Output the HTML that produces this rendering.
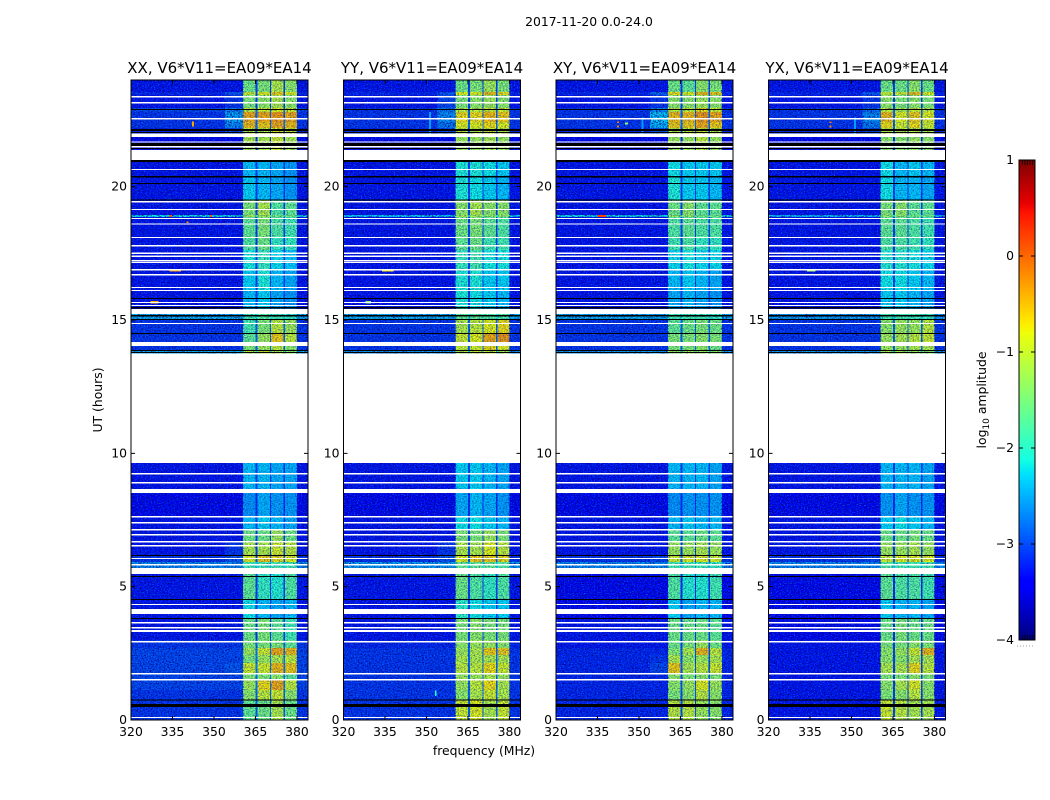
<!DOCTYPE html>
<html lang="en">
<head>
<meta charset="utf-8">
<title>2017-11-20 0.0-24.0</title>
<style>
html,body{margin:0;padding:0;background:#fff;width:1050px;height:800px;overflow:hidden}
svg{display:block}
text{font-family:"DejaVu Sans","Liberation Sans",sans-serif;fill:#000}
</style>
</head>
<body>
<svg id="figure" xmlns="http://www.w3.org/2000/svg" width="1050" height="800" viewBox="0 0 1050 800">
  <defs>
    <filter id="grain-dark" x="0" y="0" width="100%" height="100%" color-interpolation-filters="sRGB">
      <feTurbulence type="fractalNoise" baseFrequency="0.62 0.85" numOctaves="2" seed="4"/>
      <feColorMatrix type="matrix" values="0 0 0 0 0  0 0 0 0 0  0 0 0 0 0.45  2.6 0 0 0 -1.05"/>
    </filter>
    <filter id="grain-light" x="0" y="0" width="100%" height="100%" color-interpolation-filters="sRGB">
      <feTurbulence type="fractalNoise" baseFrequency="0.7 0.9" numOctaves="2" seed="11"/>
      <feColorMatrix type="matrix" values="0 0 0 0 0  0 0 0 0 0.5  0 0 0 0 1  0 2.4 0 0 -1.22"/>
    </filter>
  </defs>
  <text x="589" y="26" text-anchor="middle" font-size="12.4">2017-11-20 0.0-24.0</text>
  <text x="484" y="755" text-anchor="middle" font-size="12.4">frequency (MHz)</text>
  <text transform="translate(102,400) rotate(-90)" text-anchor="middle" font-size="12.4">UT (hours)</text>
  <text transform="translate(986,400) rotate(-90)" text-anchor="middle" font-size="12.4">log<tspan font-size="9" dy="3">10</tspan><tspan dy="-3"> amplitude</tspan></text>
  <g id="panels"></g>
  <g id="colorbar"></g>
</svg>
<script>
// ---- data ----
const panelNames = ["XX", "YY", "XY", "YX"];
const baselineLabel = "V6*V11=EA09*EA14";
const freqTicks = [320, 335, 350, 365, 380];
const hourTicks = [0, 5, 10, 15, 20];
const colorbarTicks = [-4, -3, -2, -1, 0, 1];

// time-block top edges (hours, descending); last value closes the final block
const rowEdges = [24, 23.55, 23.44, 22.95, 22.8, 22.425, 22.2, 21.86, 21.375, 20.4, 19.5, 18.94, 18.86, 18.11, 17.625, 16.875, 16.125, 15.225, 15.0, 14.51, 14.175, 13.875, 13.725, 8.625, 7.65, 7.125, 6.71, 6.19, 5.925, 5.475, 4.5, 3.825, 3.0, 2.7, 2.44, 2.14, 1.76, 1.5, 1.125, 0.75, 0];

// frequency column edges (MHz) and the value slot each column reads
const columnEdges = [320, 354, 360.5, 365, 365.7, 370.2, 370.7, 375.1, 375.7, 380, 384];
const columnSlots = ["bg", "sh", 2, "gap", 3, "gap", 4, "gap", 5, "bg"];

// log10 amplitude per block: [background, shoulder, band1, band2, band3, band4]
const ampXX = [
[-3.3,-3.3,-1.5,-1.4,-1.1,-1.3],[-3.2,-2.9,-0.9,-0.8,-0.6,-0.8],[-3.3,-3.1,-1.4,-1.3,-1.1,-1.3],[-3.0,-2.7,-1.0,-0.9,-0.8,-0.9],
[-3.1,-2.5,-0.4,-0.4,-0.3,-0.4],[-3.1,-2.6,-0.5,-0.6,-0.4,-0.5],[-3.2,-3.0,-1.0,-1.0,-0.8,-0.9],[-3.4,-3.4,-1.1,-1.1,-0.9,-1.1],
[-3.3,-3.3,-2.35,-2.35,-2.45,-2.55],[-3.3,-3.3,-2.25,-2.35,-2.45,-2.55],[-3.3,-3.3,-1.4,-1.1,-1.7,-1.6],[-2.2,-2.2,-1.2,-1.2,-1.5,-1.5],
[-3.3,-3.3,-1.6,-1.4,-1.7,-1.8],[-3.3,-3.3,-1.7,-1.5,-1.9,-1.9],[-3.3,-3.3,-2.1,-1.9,-2.2,-2.3],[-3.3,-3.3,-2.25,-2.05,-2.35,-2.45],
[-3.3,-3.3,-2.35,-2.25,-2.45,-2.55],[-2.4,-2.4,-1.8,-1.7,-1.8,-1.9],[-3.1,-3.1,-1.8,-1.4,-1.0,-1.2],[-3.1,-3.1,-1.6,-1.2,-0.6,-1.0],
[-3.1,-3.1,-1.4,-1.2,-1.0,-1.3],[-2.4,-2.4,-1.0,-0.9,-1.1,-1.3],[-3.3,-3.3,-2.35,-2.35,-2.45,-2.45],[-3.4,-3.4,-2.6,-2.45,-2.55,-2.55],
[-3.3,-3.3,-2.35,-2.25,-2.35,-2.45],[-3.3,-3.3,-1.5,-1.5,-1.2,-1.5],[-3.3,-3.1,-1.1,-1.1,-0.9,-1.0],[-3.1,-2.9,-0.8,-0.6,-0.7,-0.8],
[-2.6,-2.6,-1.8,-1.8,-1.8,-1.8],[-3.3,-3.3,-1.6,-1.9,-2.0,-1.7],[-3.3,-3.3,-2.15,-2.35,-2.45,-2.35],[-3.3,-3.3,-1.5,-1.4,-1.6,-1.8],
[-3.1,-3.1,-1.4,-1.4,-1.4,-1.6],[-3.0,-3.0,-1.2,-0.9,-0.4,-0.5],[-3.0,-3.0,-1.4,-1.2,-1.1,-1.0],[-3.0,-2.9,-0.9,-0.9,-0.5,-0.6],
[-3.0,-3.0,-1.4,-1.4,-1.3,-1.6],[-3.0,-3.0,-1.2,-0.7,-0.4,-1.0],[-3.1,-3.1,-1.3,-1.0,-0.9,-1.3],[-3.1,-3.1,-1.6,-1.5,-1.1,-1.5]];
const ampYY = [
[-3.3,-3.3,-1.5,-1.4,-1.2,-1.4],[-3.2,-2.9,-0.8,-0.8,-0.5,-0.7],[-3.3,-3.0,-1.4,-1.3,-1.2,-1.3],[-3.1,-2.7,-1.0,-1.0,-0.9,-0.9],
[-3.1,-2.6,-0.7,-0.7,-0.5,-0.6],[-3.1,-2.7,-0.8,-0.8,-0.7,-0.8],[-3.2,-3.0,-1.0,-1.0,-0.9,-1.0],[-3.4,-3.4,-1.2,-1.2,-1.1,-1.2],
[-3.3,-3.3,-2.05,-2.05,-2.15,-2.25],[-3.3,-3.3,-2.05,-2.15,-2.25,-2.35],[-3.3,-3.3,-1.3,-1.1,-1.3,-1.3],[-2.3,-2.3,-1.2,-1.2,-1.3,-1.3],
[-3.3,-3.3,-1.5,-1.4,-1.6,-1.7],[-3.3,-3.3,-1.6,-1.5,-1.8,-1.8],[-3.3,-3.3,-1.9,-1.8,-2.1,-2.1],[-3.3,-3.3,-2.05,-2.05,-2.25,-2.25],
[-3.3,-3.3,-2.05,-2.15,-2.25,-2.35],[-2.4,-2.4,-1.6,-1.6,-1.7,-1.7],[-3.1,-3.1,-1.1,-1.0,-0.8,-0.7],[-3.1,-3.1,-0.9,-0.8,-0.4,-0.3],
[-3.1,-3.1,-1.0,-0.9,-0.7,-0.8],[-2.5,-2.5,-1.0,-0.9,-1.0,-1.1],[-3.3,-3.3,-2.25,-2.25,-2.35,-2.45],[-3.4,-3.4,-2.45,-2.35,-2.45,-2.55],
[-3.3,-3.3,-2.15,-2.15,-2.25,-2.35],[-3.3,-3.3,-1.4,-1.4,-1.2,-1.4],[-3.3,-3.1,-1.1,-1.1,-0.8,-1.0],[-3.1,-2.9,-0.8,-0.6,-0.6,-0.7],
[-2.5,-2.5,-1.6,-1.6,-1.6,-1.7],[-3.3,-3.3,-1.5,-1.7,-1.9,-1.7],[-3.3,-3.3,-1.95,-2.15,-2.25,-2.25],[-3.3,-3.3,-1.4,-1.3,-1.4,-1.4],
[-3.2,-3.2,-1.3,-1.2,-1.2,-1.3],[-3.1,-3.1,-1.2,-1.1,-0.6,-0.6],[-3.1,-3.1,-1.1,-1.1,-1.1,-1.1],[-3.1,-3.1,-1.0,-1.0,-0.7,-0.9],
[-3.1,-3.1,-1.2,-1.2,-1.1,-1.2],[-3.1,-3.1,-1.2,-1.0,-0.7,-1.1],[-3.1,-3.1,-1.3,-1.1,-0.9,-1.1],[-3.1,-3.1,-0.9,-0.8,-1.1,-0.9]];
const ampXY = [
[-3.3,-3.3,-1.5,-1.6,-1.3,-1.4],[-3.2,-2.8,-0.7,-0.8,-0.5,-0.6],[-3.3,-3.1,-1.3,-1.3,-1.2,-1.3],[-3.1,-2.6,-1.0,-1.0,-0.7,-0.9],
[-3.1,-2.3,-0.5,-0.5,-0.3,-0.4],[-3.1,-2.4,-0.6,-0.6,-0.4,-0.6],[-3.2,-2.9,-1.0,-1.0,-0.9,-1.0],[-3.4,-3.4,-1.2,-1.2,-1.0,-1.2],
[-3.3,-3.3,-2.15,-2.25,-2.25,-2.25],[-3.3,-3.3,-2.05,-2.25,-2.25,-2.35],[-3.3,-3.3,-1.5,-1.3,-1.6,-1.6],[-2.2,-2.2,-1.3,-1.3,-1.5,-1.5],
[-3.3,-3.3,-1.7,-1.6,-1.7,-1.7],[-3.3,-3.3,-1.8,-1.7,-1.9,-1.9],[-3.3,-3.3,-2.2,-2.1,-2.2,-2.2],[-3.3,-3.3,-2.35,-2.25,-2.35,-2.45],
[-3.3,-3.3,-2.45,-2.35,-2.45,-2.55],[-2.4,-2.4,-1.8,-1.8,-1.8,-1.9],[-3.1,-3.1,-1.6,-1.5,-1.4,-1.5],[-3.1,-3.1,-1.4,-1.4,-1.3,-1.4],
[-3.1,-3.1,-1.4,-1.4,-1.3,-1.5],[-2.5,-2.5,-1.2,-1.1,-1.2,-1.3],[-3.3,-3.3,-2.35,-2.35,-2.35,-2.45],[-3.4,-3.4,-2.6,-2.55,-2.55,-2.55],
[-3.3,-3.3,-2.35,-2.25,-2.35,-2.35],[-3.3,-3.3,-1.6,-1.6,-1.5,-1.6],[-3.3,-3.3,-1.2,-1.2,-1.1,-1.2],[-3.1,-3.0,-0.9,-0.8,-0.8,-0.9],
[-2.6,-2.6,-1.8,-1.8,-1.8,-1.9],[-3.4,-3.4,-1.7,-2.0,-2.0,-1.8],[-3.4,-3.4,-2.25,-2.45,-2.35,-2.35],[-3.3,-3.3,-1.5,-1.5,-1.5,-1.6],
[-3.3,-3.3,-1.5,-1.4,-1.2,-1.5],[-3.2,-3.2,-1.4,-1.1,-0.5,-1.0],[-3.2,-3.1,-1.1,-1.3,-1.2,-1.1],[-3.2,-3.0,-0.6,-1.1,-1.0,-0.9],
[-3.2,-3.2,-1.3,-1.4,-1.3,-1.4],[-3.2,-3.2,-1.3,-1.2,-0.8,-1.2],[-3.2,-3.2,-1.4,-1.3,-1.0,-1.3],[-3.2,-3.2,-1.0,-1.0,-1.2,-1.3]];
const ampYX = [
[-3.3,-3.3,-1.5,-1.5,-1.3,-1.5],[-3.2,-2.9,-0.9,-0.9,-0.5,-0.8],[-3.3,-3.1,-1.3,-1.4,-1.3,-1.4],[-3.1,-2.8,-1.0,-1.1,-0.9,-1.0],
[-3.1,-2.6,-0.5,-0.8,-0.6,-0.8],[-3.1,-2.7,-0.7,-0.9,-0.7,-0.9],[-3.2,-3.0,-1.0,-1.0,-1.0,-1.1],[-3.4,-3.4,-1.3,-1.3,-1.2,-1.3],
[-3.3,-3.3,-2.15,-2.35,-2.25,-2.35],[-3.3,-3.3,-2.15,-2.35,-2.35,-2.45],[-3.3,-3.3,-1.4,-1.3,-1.6,-1.6],[-2.4,-2.4,-1.3,-1.3,-1.5,-1.5],
[-3.3,-3.3,-1.6,-1.6,-1.7,-1.8],[-3.3,-3.3,-1.7,-1.7,-1.8,-1.9],[-3.3,-3.3,-2.0,-2.0,-2.1,-2.2],[-3.3,-3.3,-2.15,-2.15,-2.25,-2.35],
[-3.3,-3.3,-2.25,-2.25,-2.35,-2.45],[-2.5,-2.5,-1.8,-1.8,-1.8,-1.9],[-3.1,-3.1,-1.3,-1.2,-1.2,-1.0],[-3.1,-3.1,-1.2,-1.1,-1.0,-0.9],
[-3.1,-3.1,-1.2,-1.2,-1.1,-1.1],[-2.5,-2.5,-1.1,-1.1,-1.2,-1.3],[-3.3,-3.3,-2.35,-2.35,-2.35,-2.45],[-3.4,-3.4,-2.55,-2.45,-2.55,-2.55],
[-3.3,-3.3,-2.25,-2.15,-2.25,-2.35],[-3.3,-3.3,-1.5,-1.5,-1.4,-1.5],[-3.3,-3.3,-1.2,-1.2,-1.1,-1.2],[-3.1,-3.0,-0.9,-0.8,-0.8,-0.8],
[-2.6,-2.6,-1.7,-1.8,-1.8,-1.8],[-3.4,-3.4,-1.6,-1.7,-1.7,-1.8],[-3.4,-3.4,-2.25,-2.35,-2.35,-2.45],[-3.4,-3.4,-1.5,-1.4,-1.5,-1.5],
[-3.3,-3.3,-1.4,-1.4,-1.3,-1.4],[-3.3,-3.3,-1.3,-1.2,-0.9,-0.5],[-3.3,-3.3,-1.3,-1.3,-1.1,-1.1],[-3.3,-3.3,-1.1,-1.1,-0.7,-1.0],
[-3.3,-3.3,-1.4,-1.4,-1.3,-1.4],[-3.3,-3.3,-1.3,-1.1,-0.8,-1.3],[-3.3,-3.3,-1.4,-1.3,-1.0,-1.3],[-3.3,-3.3,-0.9,-1.0,-1.1,-1.1]];
const panelAmps = [ampXX, ampYY, ampXY, ampYX];

// flagged time ranges [start, end] in hours, shared by all panels
const whiteFlags = [[23.4,23.34],[23.175,23.12],[22.575,22.52],[21.99,21.86],[21.69,21.66],[21.525,21.47],[21.375,21.0],[20.66,20.625],[19.46,19.41],[19.16,19.125],[18.825,18.79],[18.62,18.58],[18.11,18.075],[17.81,17.76],[17.53,17.475],[17.42,17.36],[17.25,17.19],[17.175,17.14],[16.91,16.86],[16.725,16.67],[16.24,16.2],[16.125,16.09],[15.675,15.64],[15.56,15.525],[15.41,15.225],[14.89,14.85],[14.175,14.025],[13.74,9.64],[9.26,9.21],[8.925,8.87],[8.66,8.51],[7.65,7.59],[7.425,7.37],[7.16,7.11],[6.975,6.92],[6.71,6.66],[6.56,6.5],[6.075,6.04],[5.85,5.79],[5.7,5.475],[4.35,4.31],[4.16,3.975],[3.675,3.62],[3.49,3.43],[3.375,3.3],[2.96,2.9],[1.76,1.71],[1.54,1.48],[0.11,0.075]];
const blackFlags = [[22.91,22.87],[22.16,22.09],[22.05,22.01],[21.64,21.52],[21.45,21.41],[21.0,20.92],[20.4,20.34],[20.14,20.1],[19.52,19.48],[15.825,15.79],[15.49,15.43],[15.19,15.13],[15.04,15.0],[14.51,14.475],[13.875,13.84],[13.8,13.76],[6.19,6.15],[5.4,5.36],[4.54,4.5],[3.825,3.79],[0.77,0.73],[0.6,0.49]];

// narrow interference features: panel, f0, f1, hour-high, hour-low, value
const rfiPanel = [0,0,0,0,0,0,1,1,1,2,2,2,2,3,3,3,2,3,1];
const rfiF0 = [334,348.5,340,334,327,342,334,328,351,335,342,342,345,342,342,334,351,351,353];
const rfiF1 = [334.8,349.3,340.8,338,330,342.7,338,330,351.7,338,342.7,342.7,346,342.7,342.7,337,351.7,351.7,353.6];
const rfiTop = [18.94,18.94,18.7,16.92,15.72,22.45,16.92,15.72,22.8,18.94,22.45,22.3,22.4,22.45,22.3,16.92,22.6,22.6,1.1];
const rfiLow = [18.87,18.87,18.63,16.82,15.62,22.25,16.82,15.62,21.9,18.87,22.38,22.22,22.33,22.38,22.22,16.82,21.9,21.9,0.9];
const rfiValue = [0.1,0.1,-0.2,-0.3,-0.4,-0.3,-0.7,-1.4,-2.6,0.2,-0.1,-0.1,-1.4,-0.1,-0.1,-1.2,-2.6,-2.6,-2.0];

// ---- scales ----
const panelLeft = [131, 343.5, 556, 768.5];
const panelWidth = 177, plotTop = 80, plotBottom = 720;
const ampMin = -4, ampMax = 1;
const bandStartMHz = 360.5, bandEndMHz = 380;
function xScale(p, f) { return panelLeft[p] + (f - 320) * panelWidth / 64; }
function yScale(h) { return plotBottom - h * (plotBottom - plotTop) / 24; }

function seg(v, pts) {
  for (let i = 1; i < pts.length; i++) {
    if (v <= pts[i][0]) {
      const a = pts[i - 1], b = pts[i];
      return a[1] + (b[1] - a[1]) * (v - a[0]) / (b[0] - a[0]);
    }
  }
  return pts[pts.length - 1][1];
}
function jet(val) {
  const v = Math.max(0, Math.min(1, (val - ampMin) / (ampMax - ampMin)));
  const r = seg(v, [[0, 0], [0.35, 0], [0.66, 1], [0.89, 1], [1, 0.5]]);
  const g = seg(v, [[0, 0], [0.125, 0], [0.375, 1], [0.64, 1], [0.91, 0], [1, 0]]);
  const b = seg(v, [[0, 0.5], [0.11, 1], [0.34, 1], [0.65, 0], [1, 0]]);
  return "rgb(" + Math.round(r * 255) + "," + Math.round(g * 255) + "," + Math.round(b * 255) + ")";
}
const NS = "http://www.w3.org/2000/svg";
function make(parent, tag, attrs) {
  const el = document.createElementNS(NS, tag);
  for (const k in attrs) el.setAttribute(k, attrs[k]);
  parent.appendChild(el);
  return el;
}

// ---- panels ----
const panelsRoot = document.getElementById("panels");
panelNames.forEach(function (name, p) {
  const g = make(panelsRoot, "g", {});
  
  

  const clipId = "clip-" + p;
  const defs = make(g, "defs", {});
  const clip = make(defs, "clipPath", { id: clipId });
  make(clip, "rect", { x: panelLeft[p], y: plotTop, width: panelWidth, height: plotBottom - plotTop });

  const plot = make(g, "g", { "clip-path": "url(#" + clipId + ")" });
  
  

  const amps = panelAmps[p];
  for (let r = 0; r < amps.length; r++) {
    const row = amps[r];
    const yTop = yScale(rowEdges[r]), yBot = yScale(rowEdges[r + 1]);
    for (let c = 0; c < columnSlots.length; c++) {
      const slot = columnSlots[c];
      let val;
      if (slot === "bg") val = row[0];
      else if (slot === "sh") val = row[1];
      else if (slot === "gap") val = row[0] + 0.25;
      else val = row[slot];
      const x0 = xScale(p, columnEdges[c]), x1 = xScale(p, columnEdges[c + 1]);
      const cell = make(plot, "rect", { x: x0, y: yTop, width: x1 - x0, height: yBot - yTop, fill: jet(val), "shape-rendering": "crispEdges" });
      
      
    }
  }

  // speckle texture: full strength on the quiet background, lighter over the bright bands
  const xBandA = xScale(p, bandStartMHz), xBandB = xScale(p, bandEndMHz);
  const textureRegions = [
    [panelLeft[p], xBandA, 1],
    [xBandA, xBandB, 0.55],
    [xBandB, panelLeft[p] + panelWidth, 1]
  ];
  textureRegions.forEach(function (t) {
    const dark = make(plot, "rect", { x: t[0], y: plotTop, width: t[1] - t[0], height: 640, fill: "#000", filter: "url(#grain-dark)", opacity: t[2] });
    
    
    const light = make(plot, "rect", { x: t[0], y: plotTop, width: t[1] - t[0], height: 640, fill: "#000", filter: "url(#grain-light)", opacity: t[2] });
    
    
  });

  for (let i = 0; i < rfiPanel.length; i++) {
    if (rfiPanel[i] !== p) continue;
    const x0 = xScale(p, rfiF0[i]), x1 = xScale(p, rfiF1[i]);
    const y0 = yScale(rfiTop[i]), y1 = yScale(rfiLow[i]);
    const spot = make(plot, "rect", { x: x0, y: y0, width: x1 - x0, height: y1 - y0, fill: jet(rfiValue[i]), "shape-rendering": "crispEdges" });
    
    
  }
  whiteFlags.forEach(function (f) {
    const bar = make(plot, "rect", { x: panelLeft[p], y: yScale(f[0]), width: panelWidth, height: yScale(f[1]) - yScale(f[0]), fill: "#fff", "shape-rendering": "crispEdges" });
    
    
  });
  blackFlags.forEach(function (f) {
    const bar = make(plot, "rect", { x: panelLeft[p], y: yScale(f[0]), width: panelWidth, height: yScale(f[1]) - yScale(f[0]), fill: "#000", "shape-rendering": "crispEdges" });
    
    
  });

  const frame = make(g, "rect", { x: panelLeft[p], y: plotTop, width: panelWidth, height: plotBottom - plotTop, fill: "none", stroke: "#000", "stroke-width": 1 });
  
  

  const title = make(g, "text", { x: panelLeft[p] + panelWidth / 2, y: 73, "text-anchor": "middle", "font-size": 15 });
  title.textContent = name + ", " + baselineLabel;
  
  

  freqTicks.forEach(function (f) {
    const x = xScale(p, f);
    make(g, "path", { d: "M" + x + " 720v-4M" + x + " 80v4", stroke: "#000", "stroke-width": 1, fill: "none" });
    const lab = make(g, "text", { x: x, y: 736, "text-anchor": "middle", "font-size": 12.4 });
    lab.textContent = String(f);
    
    
  });
  hourTicks.forEach(function (h) {
    const y = yScale(h);
    const xl = panelLeft[p], xr = panelLeft[p] + panelWidth;
    make(g, "path", { d: "M" + xl + " " + y + "h4M" + xr + " " + y + "h-4", stroke: "#000", "stroke-width": 1, fill: "none" });
    const lab = make(g, "text", { x: xl - 4, y: y + 4, "text-anchor": "end", "font-size": 12.4 });
    lab.textContent = String(h);
    
    
  });
});

// ---- colorbar ----
const cbRoot = document.getElementById("colorbar");
const cbLeft = 1019, cbRight = 1035, cbTop = 160, cbBottom = 640;
function cbScale(v) { return cbBottom - (v - ampMin) * (cbBottom - cbTop) / (ampMax - ampMin); }
for (let i = 0; i < 240; i++) {
  const v = ampMin + (i + 0.5) * (ampMax - ampMin) / 240;
  const strip = make(cbRoot, "rect", { x: cbLeft, y: cbBottom - (i + 1) * 2, width: cbRight - cbLeft, height: 2, fill: jet(v), "shape-rendering": "crispEdges" });
  
  
}
[1022.5, 1025, 1027.5, 1030, 1032.5].forEach(function (x) {
  make(cbRoot, "path", { d: "M" + x + " 160v5M" + x + " 640v-5", stroke: "#000", "stroke-width": 0.8, fill: "none" });
});
const cbFrame = make(cbRoot, "rect", { x: cbLeft, y: cbTop, width: cbRight - cbLeft, height: cbBottom - cbTop, fill: "none", stroke: "#000", "stroke-width": 1 });


colorbarTicks.forEach(function (v) {
  const y = cbScale(v);
  make(cbRoot, "path", { d: "M" + cbLeft + " " + y + "h4M" + cbRight + " " + y + "h-4", stroke: "#000", "stroke-width": 1, fill: "none" });
  const lab = make(cbRoot, "text", { x: 1014, y: y + 4, "text-anchor": "end", "font-size": 12.4 });
  lab.textContent = v < 0 ? "\u2212" + Math.abs(v) : String(v);
  
  
});
const cbDots = make(cbRoot, "path", { d: "M1017 646H1035", stroke: "#999", "stroke-width": 1, "stroke-dasharray": "1 2", fill: "none" });


</script>
</body>
</html>
